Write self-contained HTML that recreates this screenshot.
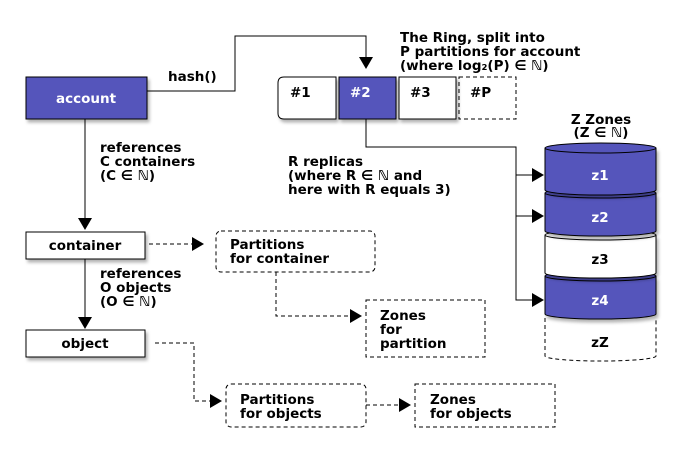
<!DOCTYPE html>
<html><head><style>
body{margin:0;background:#fff}
svg{display:block}
text{font-family:"DejaVu Sans","Liberation Sans",sans-serif;font-weight:bold;font-size:13.5px;fill:#000}
.w{fill:#fff}
</style></head><body>
<svg width="680" height="462" viewBox="0 0 680 462" xmlns="http://www.w3.org/2000/svg">
<defs>
<marker id="a" markerWidth="12" markerHeight="14" refX="11" refY="7" orient="auto" markerUnits="userSpaceOnUse"><path d="M0,0 L12,7 L0,14z" fill="#000"/></marker>
<filter id="s" x="-10%" y="-10%" width="130%" height="140%"><feDropShadow dx="2" dy="3" stdDeviation="1.5" flood-color="#000" flood-opacity="0.3"/></filter>
</defs>
<g fill="none" stroke="#000" stroke-width="1">
<rect x="26" y="77" width="121" height="42" fill="#5555bb" filter="url(#s)"/>
<polyline points="147,91 235,91 235,36 366,36 366,68" marker-end="url(#a)"/>
<line x1="85" y1="119" x2="85" y2="229" marker-end="url(#a)"/>
<path d="M284,77 H336 V119 H284 Q278,119 278,113 V83 Q278,77 284,77z" fill="#fff" filter="url(#s)"/>
<rect x="339" y="77" width="57" height="42" fill="#5555bb" filter="url(#s)"/>
<rect x="399" y="77" width="57" height="42" fill="#fff" filter="url(#s)"/>
<rect x="459" y="77" width="57" height="42" stroke-dasharray="4,3"/>
<polyline points="366,119 366,147 516,147 516,300 543,300" marker-end="url(#a)"/>
<polyline points="516,175 543,175" marker-end="url(#a)"/>
<polyline points="516,216 543,216" marker-end="url(#a)"/>
<path d="M545,318 V356 A55,5 0 0 0 656,356 V318" stroke-dasharray="4,3"/>
<path d="M545,276 V314 A55,5 0 0 0 656,314 V276" fill="#5555bb" filter="url(#s)"/>
<ellipse cx="600.5" cy="276" rx="55.5" ry="5" fill="#5555bb"/>
<path d="M545,235 V273 A55,5 0 0 0 656,273 V235" fill="#fff" filter="url(#s)"/>
<ellipse cx="600.5" cy="235" rx="55.5" ry="5" fill="#fff"/>
<path d="M545,193 V231 A55,5 0 0 0 656,231 V193" fill="#5555bb" filter="url(#s)"/>
<ellipse cx="600.5" cy="193" rx="55.5" ry="5" fill="#5555bb"/>
<path d="M545,148 V190 A55,5 0 0 0 656,190 V148" fill="#5555bb" filter="url(#s)"/>
<ellipse cx="600.5" cy="148" rx="55.5" ry="5" fill="#5555bb"/>
<rect x="26" y="232" width="119" height="27" fill="#fff" filter="url(#s)"/>
<line x1="85" y1="259" x2="85" y2="328" marker-end="url(#a)"/>
<rect x="26" y="330" width="119" height="27" fill="#fff" filter="url(#s)"/>
<g stroke-dasharray="4,3">
<line x1="149" y1="244" x2="203" y2="244" marker-end="url(#a)"/>
<rect x="216" y="231" width="159" height="41" rx="5"/>
<polyline points="276,272 276,316 361,316" marker-end="url(#a)"/>
<rect x="366" y="300" width="119" height="57"/>
<polyline points="155,343 194,343 194,401 221,401" marker-end="url(#a)"/>
<rect x="226" y="384" width="140" height="43" rx="5"/>
<line x1="366" y1="405" x2="410" y2="405" marker-end="url(#a)"/>
<rect x="415" y="384" width="140" height="43"/>
</g>
</g>
<text x="86" y="103" class="w" text-anchor="middle">account</text>
<text x="168" y="81">hash()</text>
<text x="290" y="97">#1</text>
<text x="350" y="97" class="w">#2</text>
<text x="410" y="97">#3</text>
<text x="470" y="97">#P</text>
<text x="400" y="42">The Ring, split into</text>
<text x="400" y="56">P partitions for account</text>
<text x="400" y="70">(where log₂(P) ∈ ℕ)</text>
<text x="601" y="124" text-anchor="middle">Z Zones</text>
<text x="601" y="137" text-anchor="middle">(Z ∈ ℕ)</text>
<text x="600" y="180" class="w" text-anchor="middle">z1</text>
<text x="600" y="222" class="w" text-anchor="middle">z2</text>
<text x="600" y="264" text-anchor="middle">z3</text>
<text x="600" y="305" class="w" text-anchor="middle">z4</text>
<text x="600" y="347" text-anchor="middle">zZ</text>
<text x="100" y="152">references</text>
<text x="100" y="166">C containers</text>
<text x="100" y="180">(C ∈ ℕ)</text>
<text x="288" y="166">R replicas</text>
<text x="288" y="180"> (where R ∈ ℕ and</text>
<text x="288" y="194">here with R equals 3)</text>
<text x="85" y="250" text-anchor="middle">container</text>
<text x="100" y="278">references</text>
<text x="100" y="292">O objects</text>
<text x="100" y="306">(O ∈ ℕ)</text>
<text x="85" y="348" text-anchor="middle">object</text>
<text x="230" y="249">Partitions</text>
<text x="230" y="263">for container</text>
<text x="380" y="320">Zones</text>
<text x="380" y="334">for</text>
<text x="380" y="348">partition</text>
<text x="240" y="404">Partitions</text>
<text x="240" y="418">for objects</text>
<text x="430" y="404">Zones</text>
<text x="430" y="418">for objects</text>
</svg>
</body></html>
